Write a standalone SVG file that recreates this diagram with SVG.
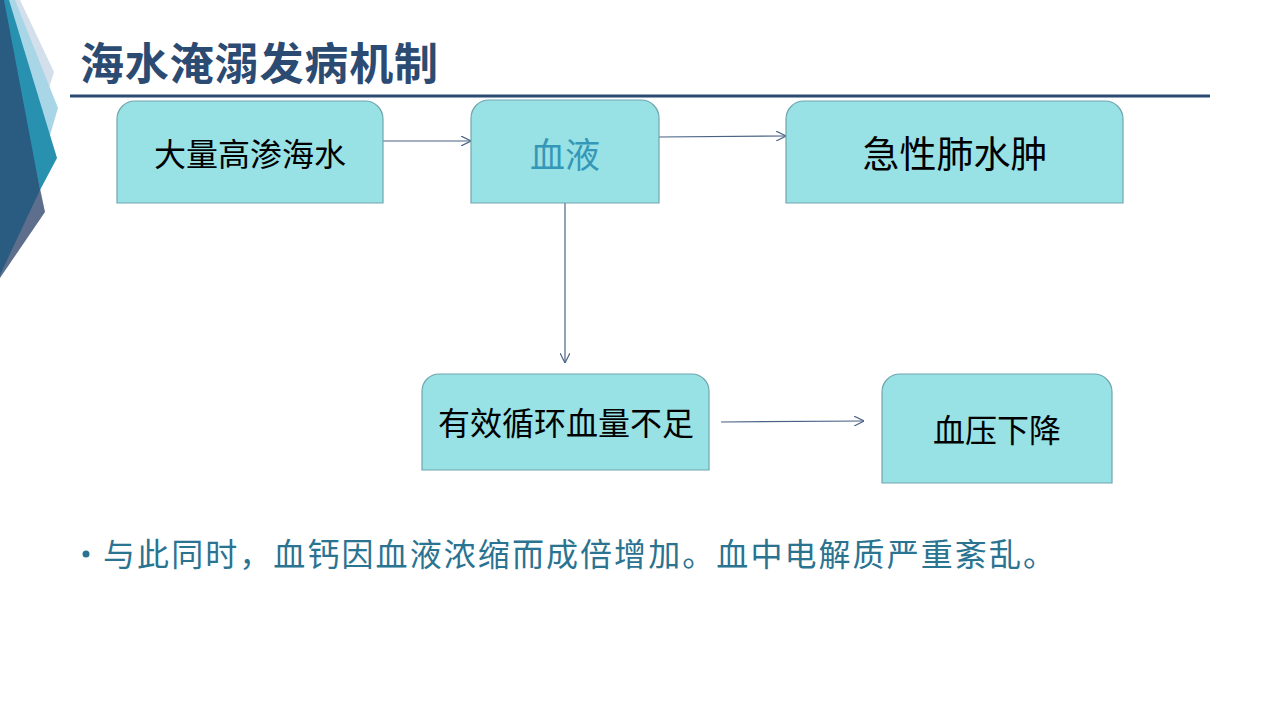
<svg xmlns="http://www.w3.org/2000/svg" width="1280" height="720" viewBox="0 0 1280 720">
<defs>
<style>
.box{fill:#98e1e4;stroke:#6fa6ad;stroke-width:1.2}
.lbl{font-family:"Liberation Sans","Noto Sans CJK SC",sans-serif;text-anchor:middle;dominant-baseline:central;fill:#000}
.conn{stroke:#4a6384;stroke-width:1.2;fill:none;marker-end:url(#arr)}
</style>
<marker id="arr" viewBox="0 0 10 10" refX="10" refY="5" markerWidth="10" markerHeight="10" markerUnits="userSpaceOnUse" orient="auto">
<path d="M0,0 L10,5 L0,10" fill="none" stroke="#4a6384" stroke-width="1.2"/>
</marker>
</defs>
<rect width="1280" height="720" fill="#fff"/>
<g id="decor">
<polygon points="0,0 20,0 54,72 44,104" fill="#d3dfea"/>
<polygon points="0,0 15,0 58,108 48,142" fill="#a9d6e6"/>
<polygon points="0,0 9,0 57,158 40,190" fill="#2891b0"/>
<polygon points="0,0 45,212 0,278" fill="#5d6f8c"/>
<polygon points="0,0 4,0 40,190 0,275" fill="#2a5c82"/>
</g>
<g id="title">
<text x="80" y="80" font-family="'Noto Sans CJK SC',sans-serif" font-weight="bold" font-size="44" fill="#2b4b72" textLength="358" lengthAdjust="spacing">海水淹溺发病机制</text>
<rect x="70" y="94.5" width="1140" height="3" fill="#2b4b72"/>
</g>
<g id="connectors">
<line class="conn" x1="383" y1="141" x2="471" y2="141"/>
<line class="conn" x1="659" y1="137" x2="786" y2="136"/>
<line class="conn" x1="565" y1="203" x2="565" y2="363"/>
<line class="conn" x1="721" y1="422" x2="864" y2="421"/>
</g>
<g id="n1">
<path class="box" d="M117,203 V119 A18,18 0 0 1 135,101 H365 A18,18 0 0 1 383,119 V203 Z"/>
<text class="lbl" x="250" y="155" font-size="32">大量高渗海水</text>
</g>
<g id="n2">
<path class="box" d="M471,203 V118 A18,18 0 0 1 489,100 H641 A18,18 0 0 1 659,118 V203 Z"/>
<text class="lbl" x="565" y="155" font-size="35" style="fill:#3597b8">血液</text>
</g>
<g id="n3">
<path class="box" d="M786,203 V119 A18,18 0 0 1 804,101 H1105 A18,18 0 0 1 1123,119 V203 Z"/>
<text class="lbl" x="955" y="155" font-size="37">急性肺水肿</text>
</g>
<g id="n4">
<path class="box" d="M422,470 V391 A17,17 0 0 1 439,374 H692 A17,17 0 0 1 709,391 V470 Z"/>
<text class="lbl" x="566" y="424" font-size="32">有效循环血量不足</text>
</g>
<g id="n5">
<path class="box" d="M882,483 V392 A18,18 0 0 1 900,374 H1094 A18,18 0 0 1 1112,392 V483 Z"/>
<text class="lbl" x="997" y="431" font-size="32">血压下降</text>
</g>
<g id="bullet">
<circle cx="86" cy="554" r="3.5" fill="#2a7391"/>
<text x="103" y="566" font-family="'Liberation Sans','Noto Sans CJK SC',sans-serif" font-size="32" fill="#2a7391" textLength="952" lengthAdjust="spacing">与此同时，血钙因血液浓缩而成倍增加。血中电解质严重紊乱。</text>
</g>
</svg>
